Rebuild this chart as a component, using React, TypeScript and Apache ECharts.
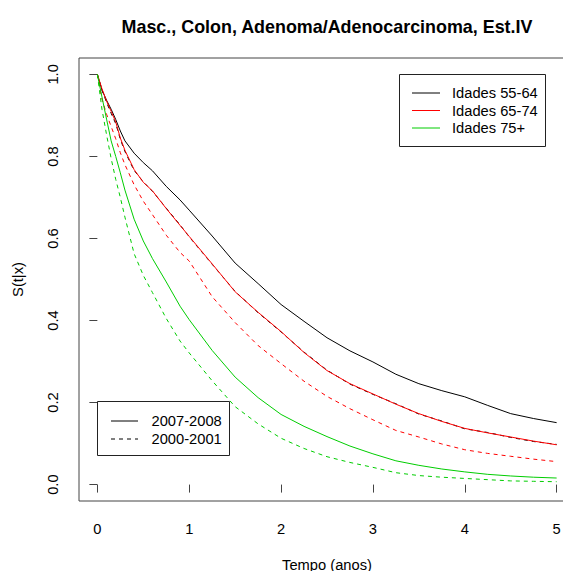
import React, { useEffect, useRef } from "react";
import * as echarts from "echarts";

const titleText = "Masc., Colon, Adenoma/Adenocarcinoma, Est.IV";
const xName = "Tempo (anos)";
const yName = "S(t|x)";
const tickValuesX = [0, 1, 2, 3, 4, 5];
const tickValuesY = [0, 0.2, 0.4, 0.6, 0.8, 1.0];

const times = [0, 0.05, 0.1, 0.15, 0.2, 0.25, 0.3, 0.4, 0.5, 0.6, 0.75, 0.9, 1.0, 1.25, 1.5, 1.75, 2, 2.25, 2.5, 2.75, 3, 3.25, 3.5, 3.75, 4, 4.25, 4.5, 4.75, 5];

const age5564_2007 = [1.0, 0.962, 0.937, 0.915, 0.89, 0.862, 0.838, 0.808, 0.785, 0.765, 0.727, 0.694, 0.669, 0.606, 0.54, 0.49, 0.439, 0.398, 0.358, 0.326, 0.299, 0.269, 0.246, 0.229, 0.214, 0.193, 0.173, 0.161, 0.151];
const age5564_2000 = [1.0, 0.962, 0.932, 0.905, 0.88, 0.842, 0.812, 0.766, 0.738, 0.715, 0.674, 0.633, 0.604, 0.537, 0.471, 0.419, 0.372, 0.323, 0.279, 0.245, 0.22, 0.197, 0.172, 0.155, 0.136, 0.127, 0.115, 0.105, 0.098];
const age6574_2007 = [1.0, 0.965, 0.935, 0.91, 0.884, 0.845, 0.815, 0.768, 0.737, 0.716, 0.673, 0.632, 0.605, 0.538, 0.47, 0.42, 0.373, 0.322, 0.278, 0.246, 0.221, 0.196, 0.173, 0.154, 0.137, 0.126, 0.116, 0.106, 0.097];
const age6574_2000 = [1.0, 0.94, 0.903, 0.873, 0.843, 0.809, 0.78, 0.731, 0.691, 0.658, 0.608, 0.566, 0.545, 0.458, 0.395, 0.339, 0.295, 0.252, 0.215, 0.185, 0.158, 0.132, 0.116, 0.099, 0.085, 0.076, 0.069, 0.062, 0.056];
const age75_2007 = [1.0, 0.945, 0.891, 0.838, 0.8, 0.76, 0.718, 0.647, 0.594, 0.551, 0.494, 0.435, 0.402, 0.327, 0.262, 0.212, 0.171, 0.142, 0.117, 0.094, 0.075, 0.058, 0.047, 0.038, 0.031, 0.025, 0.021, 0.018, 0.016];
const age75_2000 = [1.0, 0.915, 0.853, 0.795, 0.744, 0.7, 0.652, 0.563, 0.51, 0.468, 0.405, 0.35, 0.321, 0.253, 0.19, 0.148, 0.113, 0.088, 0.068, 0.054, 0.042, 0.029, 0.022, 0.018, 0.015, 0.012, 0.009, 0.008, 0.007];

const ageLegend = ["Idades 55-64", "Idades 65-74", "Idades 75+"];
const periodLegend = ["2007-2008", "2000-2001"];

const BLACK = "#000000";
const RED = "#FF0000";
const GREEN = "#00CD00";
const FONT = "'Liberation Sans', Arial, sans-serif";
const FS = 14.7;

function pairs(vals: number[]) {
  return times.map((t, i) => [t, vals[i]]);
}

export default function App() {
  const ref = useRef<HTMLDivElement>(null);
  useEffect(() => {
    if (!ref.current) return;
    const chart = echarts.init(ref.current, undefined, { renderer: "svg" });
    const mk = (name: string, vals: number[], color: string, dashed: boolean) => ({
      name,
      type: "line",
      data: pairs(vals),
      showSymbol: false,
      symbol: "none",
      lineStyle: { color, width: 1, type: dashed ? [4, 4] : "solid" },
      itemStyle: { color },
      silent: true,
    });
    const axisColor = "#444";
    const legendLines: any[] = [];
    const ageColors = [BLACK, RED, GREEN];
    const ageRows = [93, 110.5, 128];
    legendLines.push({ type: "rect", shape: { x: 399.5, y: 74.5, width: 146, height: 72 }, style: { fill: "#fff", stroke: "#222", lineWidth: 1 }, z: 10 });
    ageLegend.forEach((txt, i) => {
      legendLines.push({ type: "line", shape: { x1: 412, y1: ageRows[i], x2: 440, y2: ageRows[i] }, style: { stroke: ageColors[i], lineWidth: 1 }, z: 11 });
      legendLines.push({ type: "text", x: 452, y: ageRows[i], style: { text: txt, font: `${FS}px ${FONT}`, fill: "#000", verticalAlign: "middle" }, z: 11 });
    });
    const perRows = [421, 439];
    legendLines.push({ type: "rect", shape: { x: 97.5, y: 401.5, width: 132, height: 54 }, style: { fill: "#fff", stroke: "#222", lineWidth: 1 }, z: 10 });
    periodLegend.forEach((txt, i) => {
      legendLines.push({ type: "line", shape: { x1: 111, y1: perRows[i], x2: 138, y2: perRows[i] }, style: { stroke: BLACK, lineWidth: 1, lineDash: i === 1 ? [4, 4] : null }, z: 11 });
      legendLines.push({ type: "text", x: 151.5, y: perRows[i], style: { text: txt, font: `${FS}px ${FONT}`, fill: "#000", verticalAlign: "middle" }, z: 11 });
    });

    chart.setOption({
      animation: false,
      backgroundColor: "#ffffff",
      textStyle: { fontFamily: FONT },
      title: {
        text: titleText,
        left: 322,
        top: 13,
        textAlign: "center",
        textStyle: { fontFamily: FONT, fontWeight: "bold", fontSize: 17.9, color: "#000" },
      },
      grid: { left: 79, top: 58, width: 496, height: 443, show: true, borderColor: axisColor, borderWidth: 1, backgroundColor: "transparent", containLabel: false, outerBoundsMode: "none" },
      xAxis: {
        type: "value",
        min: -0.2,
        max: 5.2,
        name: xName,
        nameLocation: "middle",
        nameGap: 56,
        nameTextStyle: { fontFamily: FONT, fontSize: FS, color: "#000" },
        axisLine: { show: false },
        splitLine: { show: false },
        axisTick: { show: true, length: 8, inside: false, customValues: tickValuesX, lineStyle: { color: axisColor } },
        axisLabel: { customValues: tickValuesX, fontFamily: FONT, fontSize: FS, color: "#000", margin: 20 },
      },
      yAxis: {
        type: "value",
        min: -0.04,
        max: 1.04,
        name: yName,
        nameLocation: "middle",
        nameGap: 54,
        nameTextStyle: { fontFamily: FONT, fontSize: FS, color: "#000" },
        axisLine: { show: false },
        splitLine: { show: false },
        axisTick: { show: true, length: 8, inside: false, customValues: tickValuesY, lineStyle: { color: axisColor } },
        axisLabel: { customValues: tickValuesY, fontFamily: FONT, fontSize: FS, color: "#000", margin: 19, rotate: 90, formatter: (v: number) => v.toFixed(1) },
      },
      graphic: legendLines,
      series: [
        mk("Idades 55-64 (2000-2001)", age5564_2000, BLACK, true),
        mk("Idades 55-64", age5564_2007, BLACK, false),
        mk("Idades 65-74 (2000-2001)", age6574_2000, RED, true),
        mk("Idades 65-74", age6574_2007, RED, false),
        mk("Idades 75+ (2000-2001)", age75_2000, GREEN, true),
        mk("Idades 75+", age75_2007, GREEN, false),
      ],
    });
    return () => chart.dispose();
  }, []);
  return (
    <div style={{ position: "absolute", left: 0, top: 0, width: 563, height: 571, overflow: "hidden" }}>
      <div ref={ref} style={{ position: "absolute", left: 0, top: 0, width: 590, height: 571 }} />
    </div>
  );
}
